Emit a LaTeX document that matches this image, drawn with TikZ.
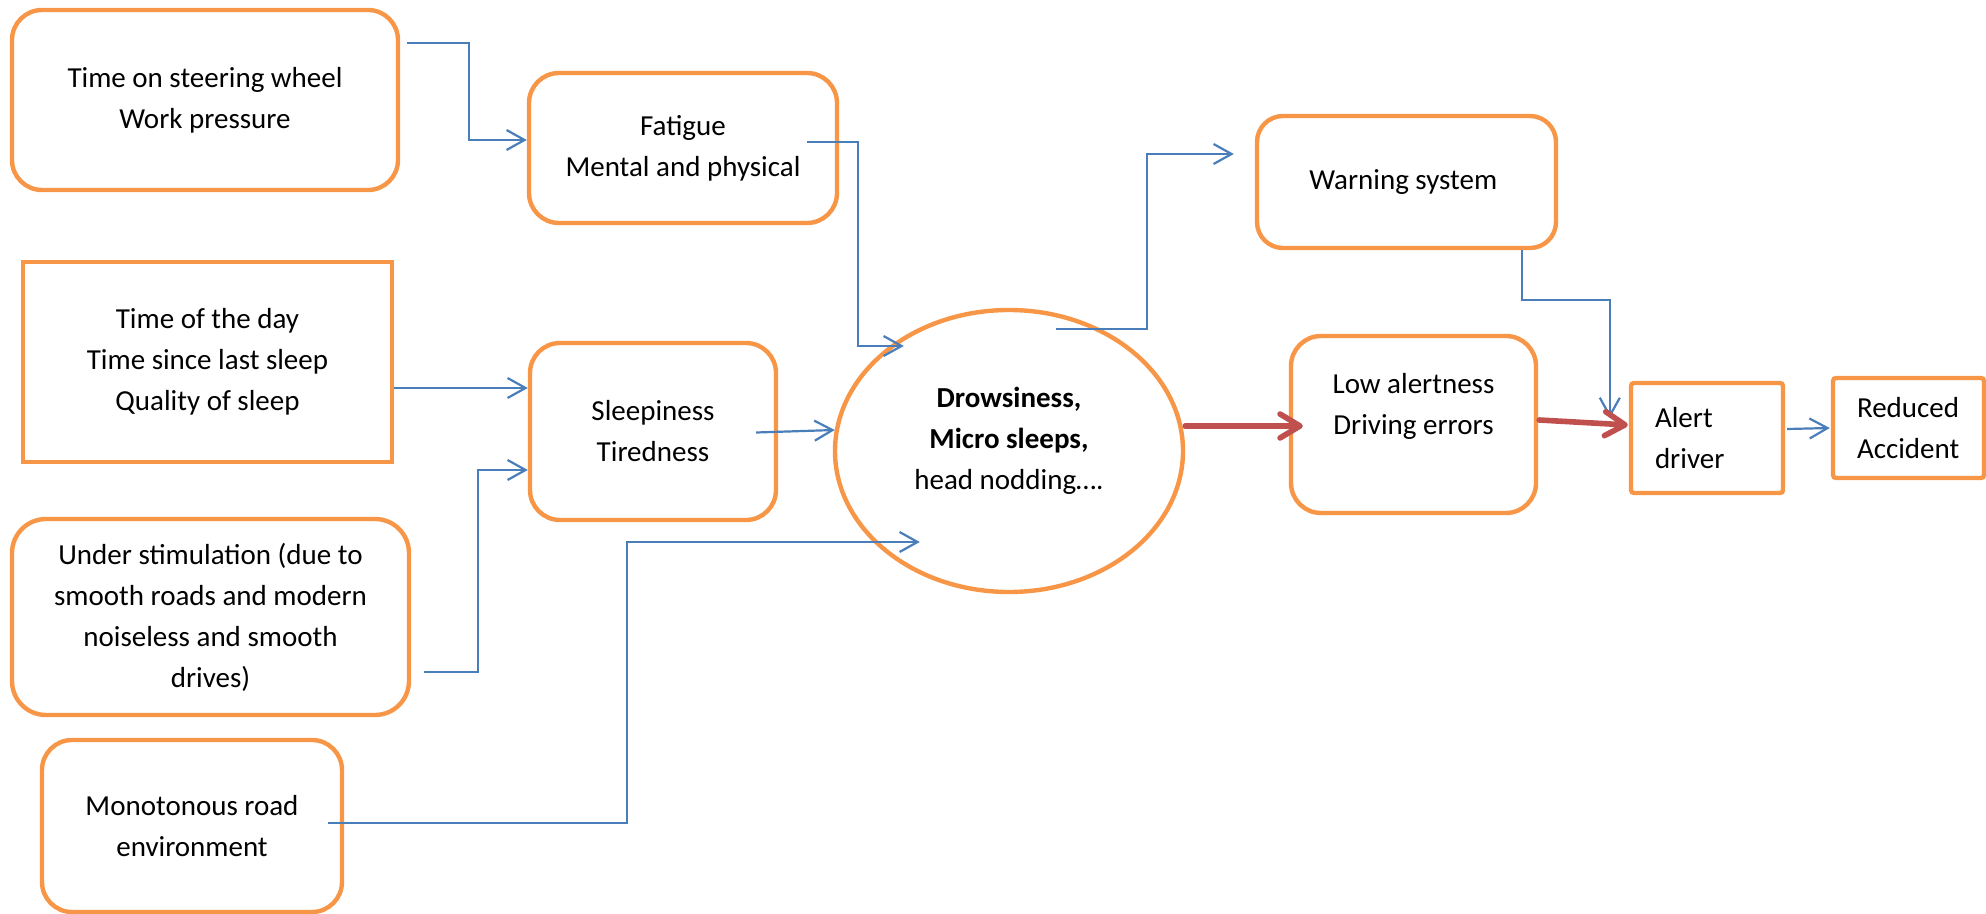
\documentclass[tikz,border=0pt]{standalone}
\usepackage{fontspec}
\setmainfont{Carlito}
\usetikzlibrary{
  arrows.meta,
  calc,
  shapes.geometric,
}
\definecolor{boxorange}{HTML}{F79646}
\definecolor{flowblue}{HTML}{4A7EBB}
\definecolor{alertred}{HTML}{C0504D}
\tikzset{
  >=Straight Barb[],
  txt/.style={align=center, inner sep=0pt, font=\fontsize{14.5}{20.5}\selectfont},
  factor/.style={txt, draw=boxorange, line width=2.2pt, fill=white, rounded corners=15pt},
  plainbox/.style={txt, draw=boxorange, line width=2.2pt, fill=white, rounded corners=1.5pt},
  outcome/.style={plainbox, align=left, inner xsep=12pt},
  flow/.style={draw=flowblue, line width=1.1pt, -{Straight Barb[length=9pt,width=10pt]}},
  hot/.style={draw=alertred, line width=2.8pt, line cap=round, -{Straight Barb[length=10pt,width=12pt,round]}},
}

\begin{document}
\begin{tikzpicture}[x=0.5pt, y=-0.5pt]
      \useasboundingbox (0,0) rectangle (1986,914);
      \node [factor, minimum width=193pt, minimum height=90pt] (time) at (205,100) {
        Time on steering wheel \\ Work pressure
      };
      \node [factor, minimum width=154pt, minimum height=75pt] (fatigue) at (683,148) {
        Fatigue \\ Mental and physical
      };
      \node [plainbox, rounded corners=0pt, minimum width=184.5pt, minimum height=100pt] (day) at (207.5,362) {
        Time of the day \\ Time since last sleep \\ Quality of sleep
      };
      \node [factor, minimum width=123pt, minimum height=88.5pt] (sleepy) at (653,431.5) {
        Sleepiness \\ Tiredness
      };
      \node [factor, rounded corners=17pt, minimum width=198.5pt, minimum height=98pt] (under) at (210.5,617) {
        Under stimulation (due to \\ smooth roads and modern \\ noiseless and smooth \\ drives)
      };
      \node [factor, minimum width=150pt, minimum height=86pt] (mono) at (192,826) {
        Monotonous road \\ environment
      };
      \node [txt, ellipse, draw=boxorange, line width=2.2pt, fill=white, minimum width=174pt, minimum height=141pt] (drowsy) at (1009,451) {
        \textbf{Drowsiness,} \\ \textbf{Micro sleeps,} \\ head nodding…. \\[-8pt] \mbox{}
      };
      \node [factor, rounded corners=13pt, minimum width=149.5pt, minimum height=66pt] (warn) at (1406.5,182) {
        Warning system
      };
      \node [factor, minimum width=122.5pt, minimum height=88.5pt] (low) at (1413.5,424.5) {
        Low alertness \\ Driving errors \\ \mbox{}
      };
      \node [outcome, text width=52pt, minimum height=55pt] (alert) at (1707,438) {
        Alert \\ driver
      };
      \node [outcome, text width=51.5pt, minimum height=50pt] (reduced) at (1908.5,428) {
        Reduced \\ Accident
      };
      \draw [flow] ($(time.east)+(7,-57)$) -- ++(62,0) |- ($(fatigue.west)+(0,-8)$);
      \draw [flow] ($(fatigue.east)+(-32,-6)$) -- ++(51,0) |- ($(drowsy.west)+(71,-105)$);
      \draw [flow] ($(day.east)+(0,26)$) -- ($(sleepy.west)+(0,-43.5)$);
      \draw [flow] ($(under.east)+(13,55)$) -- ++(54,0) |- ($(sleepy.west)+(0,38.5)$);
      \draw [flow] ($(sleepy.east)+(-22,1)$) -- ($(drowsy.west)+(2,-21)$);
      \draw [flow] ($(mono.east)+(-16,-3)$) -- ++(299,0) |- ($(drowsy.west)+(87,91)$);
      \draw [flow] ($(drowsy.center)+(47,-122)$) -- ++(91,0) |- ($(warn.west)+(-21,-28)$);
      \draw [flow] ($(warn.south)+(115.5,0)$) -- ++(0,50) -| ($(alert.west)+(-19,-20)$);
      \draw [hot] ($(drowsy.east)+(0,-25)$) -- ($(low.west)+(14,1.5)$);
      \draw [hot] ($(low.east)+(1,-4.5)$) -- ($(alert.west)+(-1,-13)$);
      \draw [flow] ($(alert.east)+(2,-9)$) -- ($(reduced.west)+(-1,0)$);
    \end{tikzpicture}
\end{document}
